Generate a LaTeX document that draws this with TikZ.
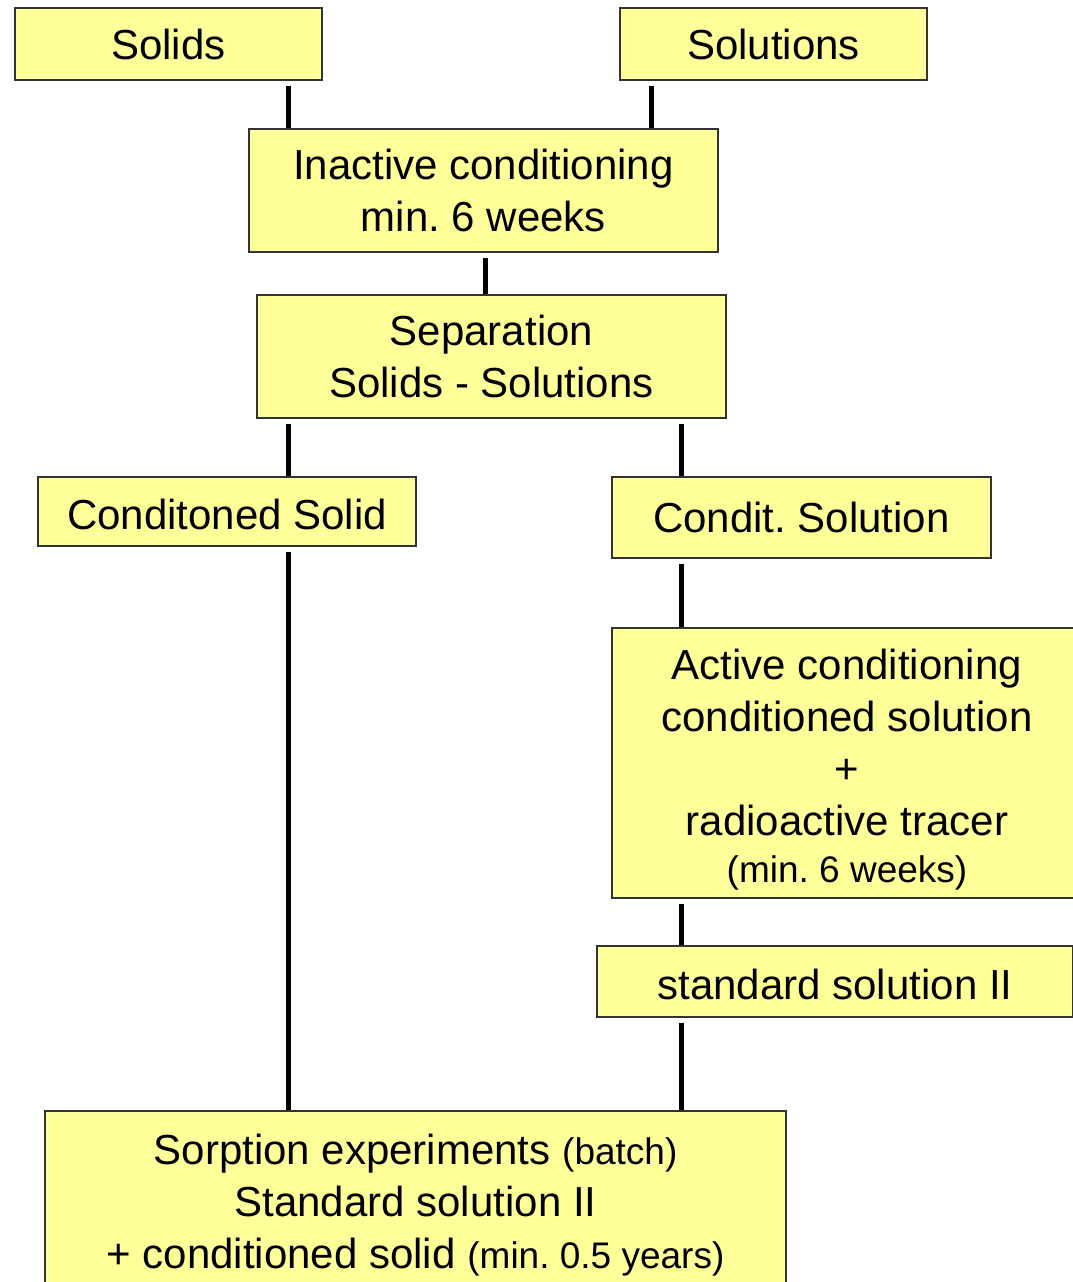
\documentclass[tikz,border=0pt]{standalone}
\usepackage{fontspec}
\setmainfont{Liberation Sans}
\usepackage{tikz}
\usetikzlibrary{positioning}

\frenchspacing
\definecolor{boxfill}{HTML}{FFFF99}
\newcommand{\smalltxt}{\fontsize{37}{46}\selectfont}

\begin{document}
\begin{tikzpicture}[x=1pt,y=-1pt,
        box/.style={draw=black!80,line width=1.5pt,fill=boxfill,inner sep=0pt,
                    align=center,font=\fontsize{42}{52}\selectfont},
        link/.style={line width=5pt,shorten <=5pt}]
        \useasboundingbox (0,0) rectangle (1073,1282);

        \node[box,minimum width=307,minimum height=72]  (sol)   at (168.5,44)   {Solids};
        \node[box,minimum width=307,minimum height=72]  (solu)  at (773.5,44)   {Solutions};
        \node[box,minimum width=469,minimum height=123] (inact) at (483.5,190.5) {Inactive conditioning\\min. 6 weeks};
        \node[box,minimum width=469,minimum height=123] (sep)   at (491.5,356.5) {Separation\\Solids - Solutions};
        \node[box,minimum width=378,minimum height=69]  (csol)  at (227,511.5)  {\rule{0pt}{36pt}Conditoned Solid};
        \node[box,minimum width=379,minimum height=81]  (csolu) at (801.5,517.5) {Condit. Solution};
        \node[box,minimum width=470,minimum height=270] (act)   at (847,763)    {\rule{0pt}{44pt}Active conditioning\\conditioned solution\\+\\radioactive tracer\\[-5pt]{\smalltxt (min. 6 weeks)}};
        \node[box,minimum width=476,minimum height=71]  (std)   at (835,981.5)  {\rule{0pt}{36pt}standard solution II};
        \node[box,minimum width=741,minimum height=188] (sorp)  at (415.5,1205) {Sorption experiments {\smalltxt (batch)}\\Standard solution II\\+ conditioned solid {\smalltxt (min. 0.5 years)}};

        % the two vertical lanes
        \coordinate (lx)  at (288,0);
        \coordinate (rx)  at (681,0);
        \coordinate (tx)  at (651,0);
        \coordinate (mx)  at (485,0);

        \draw[link] (sol.south -| lx)   -- (inact.north -| lx);
        \draw[link] (solu.south -| tx)  -- (inact.north -| tx);
        \draw[link] (inact.south -| mx) -- (sep.north -| mx);
        \draw[link] (sep.south -| lx)   -- (csol.north -| lx);
        \draw[link] (sep.south -| rx)   -- (csolu.north -| rx);
        \draw[link] (csol.south -| lx)  -- (sorp.north -| lx);
        \draw[link] (csolu.south -| rx) -- (act.north -| rx);
        \draw[link] (act.south -| rx)   -- (std.north -| rx);
        \draw[link] (std.south -| rx)   -- (sorp.north -| rx);
    \end{tikzpicture}
\end{document}
